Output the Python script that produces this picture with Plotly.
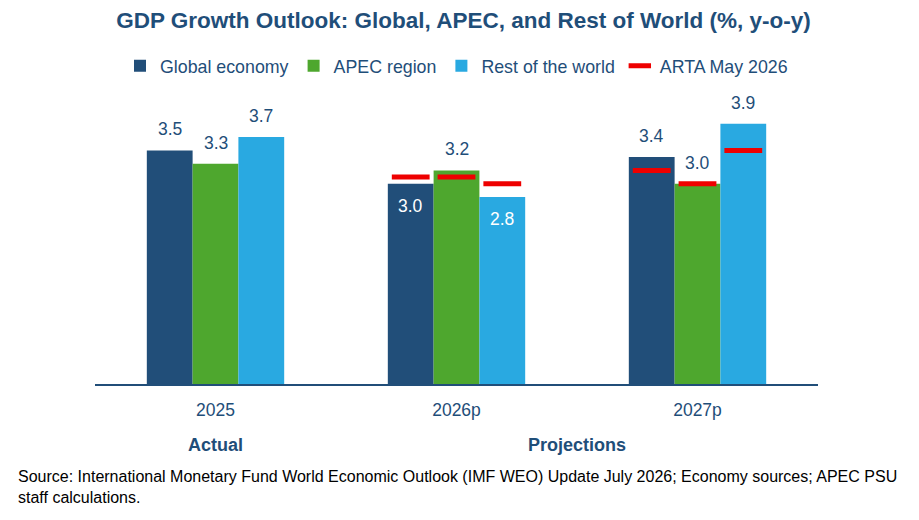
import plotly.graph_objects as go

# chart data
years = ["2025", "2026p", "2027p"]
series_names = ["Global economy", "APEC region", "Rest of the world"]
global_growth = [3.5, 3.0, 3.4]
apec_growth = [3.3, 3.2, 3.0]
rest_growth = [3.7, 2.8, 3.9]
arta_global = [None, 3.1, 3.2]
arta_apec = [None, 3.1, 3.0]
arta_rest = [None, 3.0, 3.5]
# labels drawn inside the bar (white) where the ARTA dash sits on top
label_inside_global = [False, True, False]
label_inside_apec = [False, False, False]
label_inside_rest = [False, True, False]

colors = ["#214e79", "#4ea72e", "#29a9e1"]
red = "#ee0000"
text_color = "#1f4e79"
font_family = "Liberation Sans, Arial, sans-serif"
bar_w = 0.19

values = [global_growth, apec_growth, rest_growth]
arta = [arta_global, arta_apec, arta_rest]
inside = [label_inside_global, label_inside_apec, label_inside_rest]

fig = go.Figure()
for k, name in enumerate(series_names):
    xs = [i + (k - 1) * bar_w for i in range(len(years))]
    fig.add_trace(
        go.Bar(
            x=xs,
            y=values[k],
            width=bar_w,
            name=name,
            marker=dict(color=colors[k], line=dict(width=0)),
            hoverinfo="skip",
        )
    )
    # value labels
    for i, v in enumerate(values[k]):
        fig.add_annotation(
            x=xs[i],
            y=v,
            text=f"{v:.1f}",
            showarrow=False,
            yshift=-22 if inside[k][i] else 21,
            font=dict(size=17.5, color="white" if inside[k][i] else text_color),
        )

# ARTA May 2026 markers, one trace per series but a single legend entry
for k in range(len(series_names)):
    xs = [i + (k - 1) * bar_w for i in range(len(years))]
    fig.add_trace(
        go.Scatter(
            x=xs,
            y=arta[k],
            mode="markers",
            name="ARTA May 2026",
            showlegend=(k == 0),
            legendgroup="arta",
            marker=dict(
                symbol="line-ew-open",
                size=27,
                color=red,
                line=dict(color=red, width=5),
            ),
            hoverinfo="skip",
        )
    )

# footer labels
fig.add_annotation(
    x=0, y=-0.211, xref="x", yref="paper", yanchor="middle", text="<b>Actual</b>",
    showarrow=False, font=dict(size=18, color=text_color),
)
fig.add_annotation(
    x=1.5, y=-0.211, xref="x", yref="paper", yanchor="middle",
    text="<b>Projections</b>",
    showarrow=False, font=dict(size=18, color=text_color),
)
fig.add_annotation(
    x=-0.109, y=-0.2837, xref="paper", yref="paper", xanchor="left", yanchor="top",
    align="left",
    text="Source: International Monetary Fund World Economic Outlook (IMF WEO) "
    "Update July 2026; Economy sources; APEC PSU<br>staff calculations.",
    showarrow=False, font=dict(size=16, color="black"),
)

fig.update_layout(
    width=911,
    height=512,
    title=dict(
        text="<b>GDP Growth Outlook: Global, APEC, and Rest of World (%, y-o-y)</b>",
        x=0.5,
        xanchor="center",
        y=0.9766,
        yref="container",
        yanchor="middle",
        font=dict(size=22.5, color=text_color),
    ),
    font=dict(family=font_family, size=16, color=text_color),
    barmode="overlay",
    showlegend=True,
    legend=dict(
        orientation="h",
        x=0.5,
        xanchor="center",
        y=1.1,
        yanchor="middle",
        font=dict(size=17.8, color=text_color),
        itemwidth=30,
    ),
    xaxis=dict(
        range=[-0.5, 2.5],
        tickvals=list(range(len(years))),
        ticktext=years,
        showgrid=False,
        zeroline=False,
        showline=True,
        linecolor="#214e79",
        linewidth=2,
        ticks="",
        ticklabelstandoff=9,
        tickfont=dict(size=17.5, color=text_color),
        fixedrange=True,
    ),
    yaxis=dict(
        range=[0, 4.33],
        visible=False,
        fixedrange=True,
    ),
    margin=dict(l=87, r=101, t=87, b=136),
    plot_bgcolor="white",
    paper_bgcolor="white",
)

fig.write_html("out.html")
